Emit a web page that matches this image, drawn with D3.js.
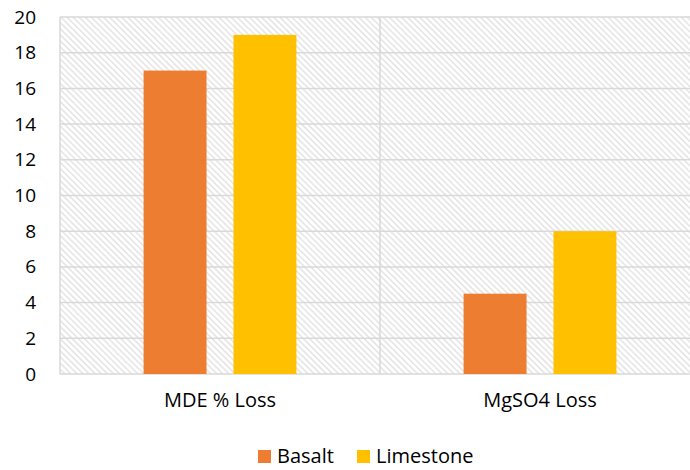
<!DOCTYPE html>
<html>
<head>
<meta charset="utf-8">
<script src="https://cdn.jsdelivr.net/npm/d3@7"></script>
<style>
  html, body { margin: 0; padding: 0; background: #fff; }
  svg { display: block; font-family: "Open Sans", sans-serif; }
</style>
</head>
<body>
<svg id="chart" width="690" height="470"></svg>
<script>
// Aggregate loss test results
const categories = ["MDE % Loss", "MgSO4 Loss"];
const seriesNames = ["Basalt", "Limestone"];
const basalt = [17, 4.5];
const limestone = [19, 8];
const yTicks = [0, 2, 4, 6, 8, 10, 12, 14, 16, 18, 20];
const colors = ["#ED7D31", "#FFC000"];

const FONT = "'Open Sans', sans-serif";
const FS = 20;

const svg = d3.select("#chart");
const margin = { left: 60, top: 17, right: -10, bottom: 96 };
const W = 690, H = 470;
const x0 = margin.left, x1 = W - margin.right;
const y0 = H - margin.bottom, y1 = margin.top;

const x = d3.scaleBand().domain(categories).range([x0, x1]).paddingInner(0).paddingOuter(0);
const xs = d3.scaleBand().domain(seriesNames).range([0, x.bandwidth()])
  .paddingInner(0.3).paddingOuter(0.93);
const y = d3.scaleLinear().domain([0, 20]).range([y0, y1]);

// hatched plot background (downward diagonal)
const defs = svg.append("defs");
const P = 4.3;
const pat = defs.append("pattern").attr("id", "hatch").attr("patternUnits", "userSpaceOnUse")
  .attr("width", P).attr("height", P).attr("patternTransform", "rotate(-45)");
pat.append("rect").attr("width", P).attr("height", P).attr("fill", "#fff");
pat.append("line").attr("x1", 0.8).attr("y1", 0).attr("x2", 0.8).attr("y2", P)
  .attr("stroke", "#e0e0e0").attr("stroke-width", 1.3);

svg.append("rect").attr("x", x0).attr("y", y1).attr("width", x1 - x0).attr("height", y0 - y1)
  .attr("fill", "url(#hatch)");

// horizontal gridlines
svg.append("g").selectAll("line").data(yTicks).join("line")
  .attr("x1", x0).attr("x2", x1)
  .attr("y1", d => y(d)).attr("y2", d => y(d))
  .attr("stroke", "#d9d9d9").attr("stroke-width", 1.5);

// vertical gridlines at category boundaries
const bounds = [x0].concat(categories.map(c => x(c) + x.bandwidth()));
svg.append("g").selectAll("line").data(bounds).join("line")
  .attr("x1", d => d).attr("x2", d => d)
  .attr("y1", y1).attr("y2", y0)
  .attr("stroke", "#d9d9d9").attr("stroke-width", 1.5);

// bars
const series = [basalt, limestone];
seriesNames.forEach((s, si) => {
  svg.append("g").selectAll("rect").data(categories).join("rect")
    .attr("x", (c) => x(c) + xs(s))
    .attr("width", xs.bandwidth())
    .attr("y", (c, i) => y(series[si][i]))
    .attr("height", (c, i) => y0 - y(series[si][i]))
    .attr("fill", colors[si]);
});

// y axis labels
const yAxis = d3.axisLeft(y).tickValues(yTicks).tickSize(0).tickPadding(0);
const gy = svg.append("g").attr("transform", `translate(${x0 - 24},0)`).call(yAxis);
gy.select(".domain").remove();
gy.selectAll("text").attr("font-size", 19).attr("fill", "#000").attr("font-family", FONT);

// x axis labels
const xAxis = d3.axisBottom(x).tickSize(0).tickPadding(0);
const gx = svg.append("g").attr("transform", `translate(0,${y0 + 19})`).call(xAxis);
gx.select(".domain").remove();
gx.selectAll("text").attr("font-size", FS).attr("fill", "#000").attr("font-family", FONT);

// legend
const legend = svg.append("g");
const legendX = [258, 357];
seriesNames.forEach((s, i) => {
  legend.append("rect").attr("x", legendX[i]).attr("y", 450).attr("width", 13).attr("height", 13)
    .attr("fill", colors[i]);
  legend.append("text").attr("x", legendX[i] + 19).attr("y", 463)
    .attr("font-size", FS).attr("font-family", FONT).attr("fill", "#000").text(s);
});
</script>
</body>
</html>
